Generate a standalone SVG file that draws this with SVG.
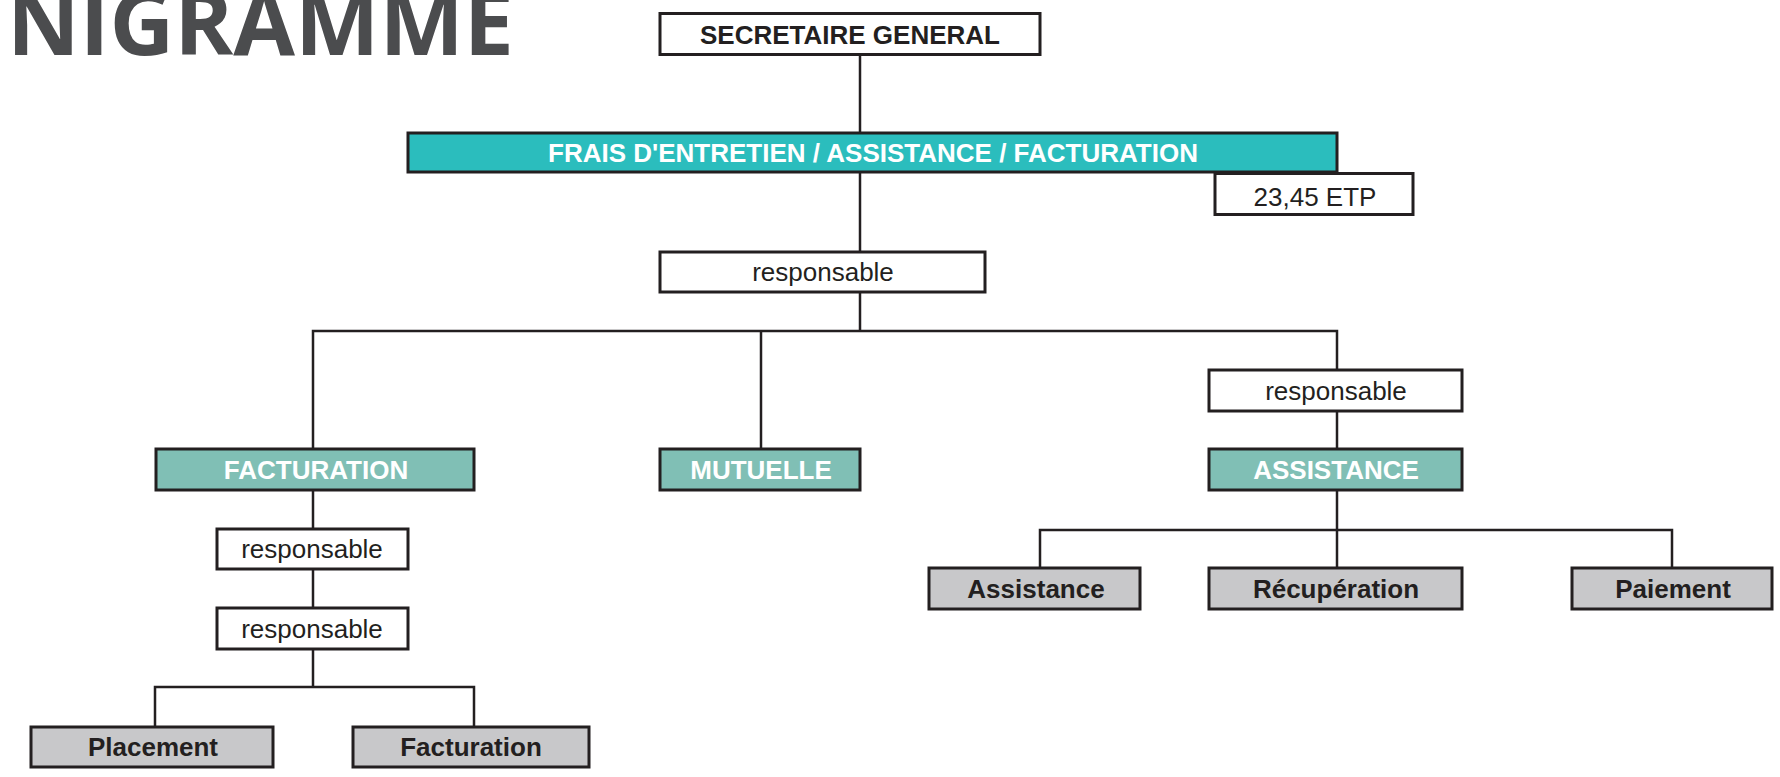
<svg xmlns="http://www.w3.org/2000/svg" width="1780" height="777" viewBox="0 0 1780 777">
<style>
.box{stroke:#231f20;stroke-width:3}
.w{fill:#ffffff}
.teal{fill:#2bbdbd}
.mint{fill:#80bfb5}
.gray{fill:#c8c8ca}
.t{font-family:"Liberation Sans",Arial,sans-serif;font-size:26px;text-anchor:middle}
.b{font-weight:bold}
.dk{fill:#231f20}
.wh{fill:#ffffff}
.con{fill:none;stroke:#231f20;stroke-width:2.5}
</style>
<rect width="1780" height="777" fill="#ffffff"/>
<text x="7" y="55" font-family="'Open Sans','Noto Sans',sans-serif" font-weight="bold" font-size="90" fill="#4b4c4e" textLength="507" lengthAdjust="spacingAndGlyphs">NIGRAMME</text>
<g id="connectors">
<line class="con" x1="860" y1="55" x2="860" y2="133"/>
<line class="con" x1="860" y1="172" x2="860" y2="252"/>
<line class="con" x1="860" y1="292" x2="860" y2="331"/>
<polyline class="con" points="313,449 313,331 1337,331 1337,370"/>
<line class="con" x1="761" y1="331" x2="761" y2="449"/>
<line class="con" x1="313" y1="490" x2="313" y2="529"/>
<line class="con" x1="313" y1="569" x2="313" y2="608"/>
<line class="con" x1="313" y1="649" x2="313" y2="687"/>
<polyline class="con" points="155,727 155,687 474,687 474,727"/>
<line class="con" x1="1337" y1="411" x2="1337" y2="449"/>
<line class="con" x1="1337" y1="490" x2="1337" y2="568"/>
<polyline class="con" points="1040,568 1040,530 1672,530 1672,568"/>
</g>
<g id="secretaire">
<rect class="box w" x="660" y="13.5" width="380" height="41"/>
<text class="t b dk" x="850" y="43.5">SECRETAIRE GENERAL</text>
</g>
<g id="frais">
<rect class="box teal" x="408" y="133" width="929" height="39"/>
<text class="t b wh" x="873" y="161.5">FRAIS D'ENTRETIEN / ASSISTANCE / FACTURATION</text>
</g>
<g id="etp">
<rect class="box w" x="1215" y="173.5" width="198" height="41"/>
<text class="t" x="1315" y="206" fill="#231f20">23,45 ETP</text>
</g>
<g id="responsable1">
<rect class="box w" x="660" y="252" width="325" height="40"/>
<text class="t" x="823" y="281" fill="#231f20">responsable</text>
</g>
<g id="facturation">
<rect class="box mint" x="156" y="449" width="318" height="41"/>
<text class="t b wh" x="316" y="478.5">FACTURATION</text>
</g>
<g id="mutuelle">
<rect class="box mint" x="660" y="449" width="200" height="41"/>
<text class="t b wh" x="761" y="478.5">MUTUELLE</text>
</g>
<g id="responsable4">
<rect class="box w" x="1209" y="370" width="253" height="41"/>
<text class="t" x="1336" y="399.5" fill="#231f20">responsable</text>
</g>
<g id="assistance">
<rect class="box mint" x="1209" y="449" width="253" height="41"/>
<text class="t b wh" x="1336" y="478.5">ASSISTANCE</text>
</g>
<g id="responsable2">
<rect class="box w" x="217" y="529" width="191" height="40"/>
<text class="t" x="312" y="558" fill="#231f20">responsable</text>
</g>
<g id="responsable3">
<rect class="box w" x="217" y="608" width="191" height="41"/>
<text class="t" x="312" y="637.5" fill="#231f20">responsable</text>
</g>
<g id="placement">
<rect class="box gray" x="31" y="727" width="242" height="40"/>
<text class="t b dk" x="153" y="756">Placement</text>
</g>
<g id="facturation2">
<rect class="box gray" x="353" y="727" width="236" height="40"/>
<text class="t b dk" x="471" y="756">Facturation</text>
</g>
<g id="assistance2">
<rect class="box gray" x="929" y="568" width="211" height="41"/>
<text class="t b dk" x="1036" y="597.5">Assistance</text>
</g>
<g id="recuperation">
<rect class="box gray" x="1209" y="568" width="253" height="41"/>
<text class="t b dk" x="1336" y="597.5">Récupération</text>
</g>
<g id="paiement">
<rect class="box gray" x="1572" y="568" width="200" height="41"/>
<text class="t b dk" x="1673" y="597.5">Paiement</text>
</g>
</svg>
